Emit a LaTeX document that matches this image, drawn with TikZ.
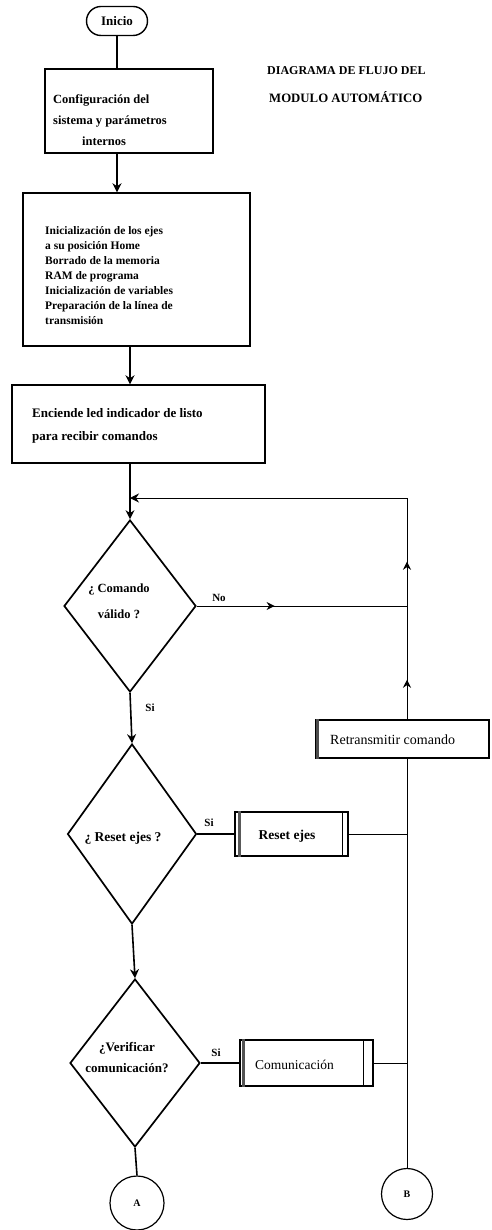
\documentclass[tikz,border=0pt]{standalone}
\usepackage{fontspec}
\setmainfont{Liberation Serif}
\usetikzlibrary{shapes.geometric,shapes.misc,arrows.meta,decorations.markings,calc}
\tikzset{
  boxline/.style={draw, line width=1.4pt},
  dec/.style={draw, diamond, line width=1.7pt, inner sep=0pt},
  txt/.style={inner sep=0pt, font=\bfseries, align=left},
  lbl/.style={inner sep=0pt, font=\bfseries\fontsize{11}{13}\selectfont},
  flow/.style={line width=1.6pt},
  thin/.style={line width=1pt},
  tip/.style={-{Stealth[length=9pt,width=9pt]}},
  midtip/.style={postaction={decorate, decoration={markings,
      mark=at position #1 with {\arrow{Stealth[length=8pt,width=8pt]}}}}},
  conn/.style={draw, circle, line width=1.2pt, minimum size=#1, inner sep=0pt, font=\bfseries\fontsize{10}{12}\selectfont},
}
\begin{document}
\begin{tikzpicture}[x=1pt,y=-1pt]
\useasboundingbox (0,0) rectangle (491,1230);

% terminal and title
\node[draw, rounded rectangle, line width=1.4pt, minimum width=61pt, minimum height=29pt,
      inner sep=0pt, font=\bfseries\fontsize{13}{15}\selectfont] (inicio) at (117,21) {Inicio};
\node[txt, anchor=west, font=\bfseries\fontsize{12}{14}\selectfont] (tit1) at (267,71) {DIAGRAMA DE FLUJO DEL};
\node[txt, anchor=west, font=\bfseries\fontsize{12.8}{14}\selectfont] (tit2) at (269,97) {MODULO AUTOMÁTICO};

% process boxes
\node[boxline, minimum width=168pt, minimum height=84pt, inner sep=0pt] (cfg) at (129,111) {};
\node[txt, anchor=north west, font=\bfseries\fontsize{12.5}{21}\selectfont] (cfgt) at (53,95)
  {Configuración del\\sistema y parámetros\\\hspace*{29pt}internos};

\node[boxline, minimum width=227pt, minimum height=153pt, inner sep=0pt] (init) at (136.5,269.5) {};
\node[txt, anchor=north west, font=\bfseries\fontsize{11.5}{15}\selectfont] (initt) at (45,226)
  {Inicialización de los ejes\\a su posición Home\\Borrado de la memoria\\RAM de programa\\
   Inicialización de variables\\Preparación de la línea de\\transmisión};

\node[boxline, minimum width=253pt, minimum height=78pt, inner sep=0pt] (led) at (138.5,424) {};
\node[txt, anchor=north west, font=\bfseries\fontsize{13}{23}\selectfont] (ledt) at (32,408)
  {Enciende led indicador de listo\\para recibir comandos};

% decisions
\node[dec, minimum width=132pt, minimum height=172pt] (d1) at (130,606) {};
\node[txt, align=center, font=\bfseries\fontsize{12.5}{26}\selectfont] (d1t) at (119,601) {¿ Comando\\válido ?};

\node[dec, minimum width=129pt, minimum height=180pt] (d2) at (132,834) {};
\node[txt, font=\bfseries\fontsize{13.5}{15}\selectfont] (d2t) at (123,838) {¿ Reset ejes ?};

\node[dec, minimum width=130pt, minimum height=168pt] (d3) at (135,1063) {};
\node[txt, align=center, font=\bfseries\fontsize{13}{21}\selectfont] (d3t) at (127,1058) {¿Verificar\\comunicación?};

% side processes
\node[draw, line width=1.1pt, minimum width=173pt, minimum height=38pt, inner sep=0pt] (retx) at (402.5,739) {};
\draw[line width=2.4pt, gray!60!black] ([xshift=2pt]retx.north west) -- ([xshift=2pt]retx.south west);
\node[inner sep=0pt, anchor=west, font=\fontsize{14}{16}\selectfont] (retxt) at (330,740) {Retransmitir comando};

\node[draw, line width=1.2pt, minimum width=113pt, minimum height=44pt, inner sep=0pt] (reset) at (291.5,834) {};
\node[inner sep=0pt, font=\bfseries\fontsize{13.5}{15}\selectfont] (resett) at (287,836) {Reset ejes};
\draw[line width=2.2pt, gray!70!black] ([xshift=5pt]reset.north west) -- ([xshift=5pt]reset.south west);
\draw[line width=1pt] ([xshift=-6pt]reset.north east) -- ([xshift=-6pt]reset.south east);

\node[draw, line width=1.2pt, minimum width=133pt, minimum height=46pt, inner sep=0pt] (comm) at (306.5,1063) {};
\node[inner sep=0pt, anchor=west, font=\fontsize{13.5}{15}\selectfont] (commt) at (255,1065) {Comunicación};
\draw[line width=3.5pt, gray!65!black] ([xshift=4pt]comm.north west) -- ([xshift=4pt]comm.south west);
\draw[line width=1pt] ([xshift=-10pt]comm.north east) -- ([xshift=-10pt]comm.south east);

% connectors to other pages
\node[conn=54pt] (A) at (137,1203) {A};
\node[conn=51pt] (B) at (407,1194) {B};

% helper points
\coordinate (loopj) at (d1.north |- 0,498);
\coordinate (loopc) at (B.north |- loopj);
\coordinate (nojoin) at (B.north |- d1.east);

% main flow
\draw[flow] (inicio) -- (inicio |- cfg.north);
\draw[flow, tip] (cfg.south -| inicio) -- (init.north -| inicio);
\draw[flow, tip] (d1.north |- init.south) -- (d1.north |- led.north);
\draw[flow, tip] (d1.north |- led.south) -- (d1.north);
\draw[flow, tip] (d1.south) -- (d2.north);
\draw[flow, tip] (d2.south) -- (d3.north);
\draw[flow] (d3.south) -- (A.north);
\node[lbl] (si1) at (150,708) {Si};

% branches
\draw[thin, midtip=0.37] (d1.east) -- (nojoin);
\node[lbl] (nolbl) at (219,598) {No};
\draw[thin, midtip=0.35] (retx.north -| B.north) -- (nojoin);
\draw[thin, midtip=0.41] (nojoin) -- (loopc);
\draw[thin, tip] (loopc) -- (loopj);

\draw[flow] (d2.east) -- (reset.west);
\node[lbl] (si2) at (209,823) {Si};
\draw[flow] (d3.east) -- (comm.west);
\node[lbl] (si3) at (216,1053) {Si};
\draw[thin] (reset.east) -- (reset.east -| B.north);
\draw[thin] (comm.east) -- (comm.east -| B.north);
\draw[thin] (retx.south -| B.north) -- (B.north);
\end{tikzpicture}
\end{document}
